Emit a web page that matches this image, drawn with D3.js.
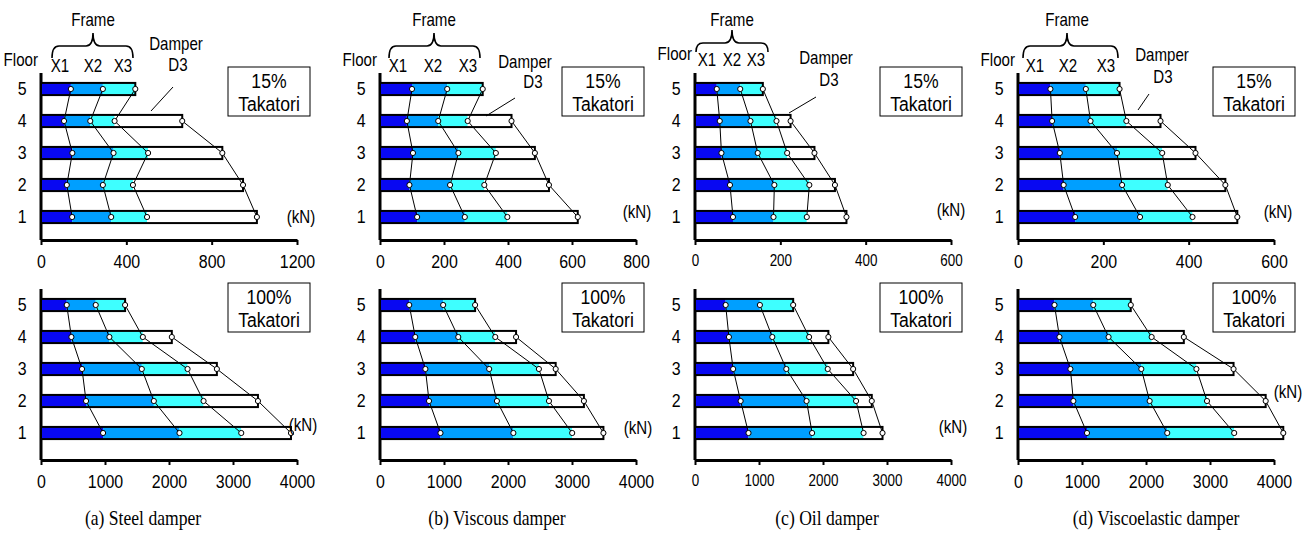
<!DOCTYPE html>
<html>
<head>
<meta charset="utf-8">
<script src="https://cdn.jsdelivr.net/npm/d3@7"></script>
<style>
  body { margin: 0; background: #fff; }
  text { font-family: "Liberation Sans", Arial, sans-serif; fill: #000; }
  .caption { font-family: "Liberation Serif", "Times New Roman", serif; }
</style>
</head>
<body>
<div id="viz"></div>
<script>
const floors = [5, 4, 3, 2, 1];
const segNames = ['X1', 'X2', 'X3', 'D3'];
const segColors = ['#0808f2', '#009fff', '#3effff', '#ffffff'];

// cumulative story shear (kN) at X1, X2, X3, D3 ; rows = floors 5..1
const steel15 = [[140, 290, 442], [108, 231, 345, 662], [147, 340, 502, 850], [121, 290, 431, 947], [146, 329, 497, 1012]];
const steel100 = [[402, 855, 1314], [475, 1069, 1591, 2044], [641, 1575, 2290, 2748], [704, 1763, 2540, 3390], [970, 2164, 3129, 3906]];
const viscous15 = [[100, 210, 321], [84, 182, 274, 411], [103, 245, 362, 484], [92, 219, 326, 528], [116, 265, 398, 618]];
const viscous100 = [[457, 987, 1486], [551, 1223, 1801, 2126], [709, 1706, 2483, 2745], [766, 1827, 2640, 3186], [945, 2084, 3003, 3491]];
const oil15 = [[51, 106, 159], [58, 130, 191, 224], [62, 147, 216, 280], [82, 186, 268, 328], [89, 184, 262, 355]];
const oil100 = [[479, 1014, 1534], [530, 1208, 1783, 2084], [596, 1427, 2074, 2471], [713, 1743, 2517, 2762], [836, 1830, 2634, 2930]];
const visco15 = [[76, 159, 238], [80, 170, 254, 334], [98, 232, 338, 416], [107, 244, 351, 486], [134, 286, 409, 514]];
const visco100 = [[570, 1176, 1762], [648, 1415, 2088, 2591], [819, 1927, 2788, 3368], [865, 2057, 2953, 3870], [1078, 2332, 3378, 4145]];

const ticksTop = [[0, 400, 800, 1200], [0, 200, 400, 600, 800], [0, 200, 400, 600], [0, 200, 400, 600]];
const ticksBottom = [0, 1000, 2000, 3000, 4000];
const captions = ['(a) Steel damper', '(b) Viscous damper', '(c) Oil damper', '(d) Viscoelastic damper'];
const levels = ['15%', '100%'];

const dataTop = [steel15, viscous15, oil15, visco15];
const dataBottom = [steel100, viscous100, oil100, visco100];

const width = 1312;
const height = 533;
const SX = 0.84; // the original lettering is narrow

const svg = d3.select('#viz').append('svg')
  .attr('width', width)
  .attr('height', height);

// layout per panel (pixels)
const panelX = [41, 380, 695, 1018];
const axisW = 256;
const tickFont = [19, 19, 16, 19];
const rows = [
  { top: 73, axisY: 240 },
  { top: 289, axisY: 460 },
];
const boxX = [187, 182, 185, 195];
const kN = [[[301, 217], [303, 425]], [[637, 212], [638, 428]], [[951, 210], [953, 427]], [[1278, 212], [1288, 392]]];
const captionX = [143, 497, 827, 1156];
const note = [
  { brace: [11, 92], xs: [19, 52, 82], frame: 52, dy: 0, damper: [135, 44], d3: [137, 65], lead: [132, 87, 110, 111] },
  { brace: [9, 100], xs: [18, 53, 88], frame: 54, dy: 0, damper: [145, 62], d3: [153, 82], lead: [135, 98, 106, 116] },
  { brace: [1, 73], xs: [12, 37, 61], frame: 37, dy: -6, damper: [131, 58], d3: [134, 80], lead: [121, 97, 94, 113] },
  { brace: [5, 100], xs: [17, 50, 88], frame: 49, dy: 0, damper: [144, 55], d3: [145, 77], lead: [131, 94, 120, 110] },
];

const line = d3.line().x(d => d[0]).y(d => d[1]);

// text centred vertically on cy, narrowed horizontally
function label(g, x, cy, txt, size, anchor) {
  return g.append('text')
    .attr('transform', `translate(${x},${cy + size * 0.35}) scale(${SX},1)`)
    .attr('text-anchor', anchor || 'middle')
    .style('font-size', size + 'px')
    .text(txt);
}

function drawChart(p, r, data, ticks) {
  const x0 = panelX[p];
  const row = rows[r];
  const g = svg.append('g');

  const x = d3.scaleLinear()
    .domain([0, ticks[ticks.length - 1]])
    .range([x0, x0 + axisW]);

  const y = d3.scaleBand()
    .domain(floors)
    .range([row.top, row.top + 160])
    .paddingInner(0.62)
    .paddingOuter(0.31);

  // x axis
  const xAxis = g.append('g')
    .attr('transform', `translate(0,${row.axisY})`)
    .call(d3.axisBottom(x).tickValues(ticks).tickFormat(d3.format('d'))
      .tickSize(5).tickSizeOuter(0).tickPadding(10));
  xAxis.select('.domain').attr('stroke', '#000').attr('stroke-width', 3);
  xAxis.selectAll('.tick line').attr('stroke', '#000').attr('stroke-width', 2);
  xAxis.selectAll('.tick text')
    .attr('transform', `scale(${SX},1)`)
    .style('font-family', '"Liberation Sans", Arial, sans-serif')
    .style('font-size', tickFont[p] + 'px');

  // y axis
  g.append('line')
    .attr('x1', x0).attr('x2', x0)
    .attr('y1', row.top).attr('y2', row.axisY)
    .attr('stroke', '#000').attr('stroke-width', 3);
  const yAxis = g.append('g')
    .attr('transform', `translate(${x0},0)`)
    .call(d3.axisLeft(y).tickSize(0).tickPadding(17));
  yAxis.select('.domain').remove();
  yAxis.selectAll('.tick text')
    .attr('transform', `scale(${SX},1)`)
    .style('font-family', '"Liberation Sans", Arial, sans-serif')
    .style('font-size', '19px');

  const bh = y.bandwidth();

  // bars
  data.forEach((vals, i) => {
    const yy = y(floors[i]);
    vals.forEach((v, k) => {
      const start = k === 0 ? 0 : vals[k - 1];
      g.append('rect')
        .attr('x', x(start)).attr('y', yy)
        .attr('width', x(v) - x(start)).attr('height', bh)
        .attr('fill', segColors[k]);
    });
    g.append('rect')
      .attr('x', x(0)).attr('y', yy)
      .attr('width', x(vals[vals.length - 1]) - x(0)).attr('height', bh)
      .attr('fill', 'none').attr('stroke', '#000').attr('stroke-width', 2);
  });

  // connecting lines
  segNames.forEach((name, k) => {
    const pts = data
      .map((vals, i) => (vals[k] === undefined ? null : [x(vals[k]), y(floors[i]) + bh / 2]))
      .filter(d => d);
    g.append('path')
      .attr('d', line(pts))
      .attr('fill', 'none').attr('stroke', '#000').attr('stroke-width', 1);
  });

  // dots
  data.forEach((vals, i) => {
    g.selectAll(null)
      .data(vals)
      .enter()
      .append('circle')
      .attr('cx', d => x(d))
      .attr('cy', y(floors[i]) + bh / 2)
      .attr('r', 2.6)
      .attr('fill', '#fff').attr('stroke', '#000').attr('stroke-width', 1);
  });

  // level box
  const by = row.top - 6;
  g.append('rect')
    .attr('x', x0 + boxX[p]).attr('y', by)
    .attr('width', 82).attr('height', 49)
    .attr('fill', '#fff').attr('stroke', '#000').attr('stroke-width', 1);
  label(g, x0 + boxX[p] + 41, by + 14, levels[r], 21);
  label(g, x0 + boxX[p] + 41, by + 37, 'Takatori', 21);

  // unit
  label(g, kN[p][r][0], kN[p][r][1], '(kN)', 18);
}

function drawNotes(p) {
  const x0 = panelX[p];
  const n = note[p];
  const g = svg.append('g');
  const dy = n.dy;

  label(g, x0 - 3, 60 + dy, 'Floor', 18, 'end');
  label(g, x0 + n.frame, 20, 'Frame', 18);

  const a = x0 + n.brace[0];
  const b = x0 + n.brace[1];
  const m = x0 + n.frame;
  const tip = 33 + dy / 2;
  const mid = 46 + dy / 2;
  const end = 58 + dy;
  const rr = 7;
  g.append('path')
    .attr('d', `M${a},${end} Q${a},${mid} ${a + rr},${mid} L${m - rr},${mid} Q${m},${mid} ${m},${tip}`
      + ` Q${m},${mid} ${m + rr},${mid} L${b - rr},${mid} Q${b},${mid} ${b},${end}`)
    .attr('fill', 'none').attr('stroke', '#000').attr('stroke-width', 1.6);

  n.xs.forEach((xx, k) => {
    label(g, x0 + xx, 66 + dy, segNames[k], 18);
  });

  label(g, x0 + n.damper[0], n.damper[1], 'Damper', 18);
  label(g, x0 + n.d3[0], n.d3[1], 'D3', 18);
  g.append('line')
    .attr('x1', x0 + n.lead[0]).attr('y1', n.lead[1])
    .attr('x2', x0 + n.lead[2]).attr('y2', n.lead[3])
    .attr('stroke', '#000').attr('stroke-width', 1);

  svg.append('text')
    .attr('class', 'caption')
    .attr('transform', `translate(${captionX[p]},525) scale(0.88,1)`)
    .attr('text-anchor', 'middle').style('font-size', '20px')
    .text(captions[p]);
}

for (let p = 0; p < 4; p += 1) {
  drawChart(p, 0, dataTop[p], ticksTop[p]);
  drawChart(p, 1, dataBottom[p], ticksBottom);
  drawNotes(p);
}
</script>
</body>
</html>
